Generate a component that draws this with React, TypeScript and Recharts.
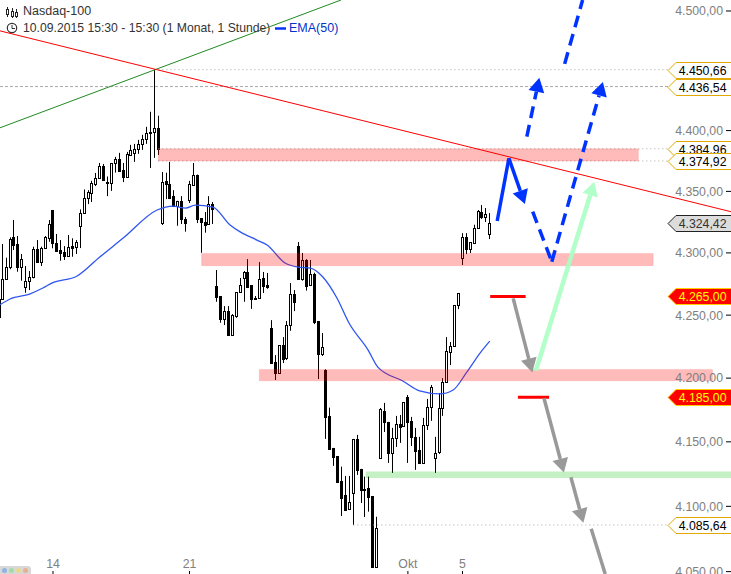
import { Bar, ComposedChart, Line, ReferenceArea, ReferenceDot, ReferenceLine, XAxis, YAxis } from 'recharts';

// hourly candles (first one is cut by the left edge)
const opens = [
  4262.9, 4263.1, 4279.2, 4288.4, 4312.6, 4307.2, 4288.4, 4272.8, 4277.6, 4280.8, 4302.9, 4292.9, 4303.7, 4312.3, 4334.8, 4307.8, 4302.3, 4300.4, 4297.7, 4305.5, 4305,
  4322, 4332.1, 4344.3, 4348.8, 4356, 4360.9, 4370.9, 4357.6, 4356.8, 4373.3, 4376.6, 4367.6, 4361.8, 4379.9, 4381.6, 4384.9, 4388.6, 4393.2, 4398.9, 4398.9, 4402.3,
  4324.2, 4358.6, 4356, 4346.1, 4338, 4342.1, 4327.5, 4342.9, 4355.2, 4363.8, 4328.3, 4325, 4323.4, 4339.6,
  4273.3, 4265.3, 4247.1, 4253.2, 4234.4, 4249.2, 4268.5, 4279.8, 4284.6, 4274.1, 4263.9, 4263.9, 4279.8, 4274.1,
  4239.7, 4212.7, 4204.2, 4226.2, 4216.1, 4242.1, 4266.9, 4305.5, 4279, 4294.3, 4274.1, 4283, 4245.3, 4219.3,
  4206.3, 4170.3, 4145.3, 4139, 4119.6, 4108.8, 4098, 4110.3, 4152.3, 4129, 4112.6, 4114.2, 4108, 4053.3,
  4137.5, 4174.2, 4165.6, 4141.4, 4153.1, 4164, 4162.5, 4185.2, 4166.4, 4153.9, 4143.7, 4133.6, 4163.2, 4177.3,
  4137.5, 4142.2, 4176.5, 4196.9, 4220.6, 4225.4, 4258, 4295.9, 4312.7, 4303.1, 4308, 4320.4, 4333.2, 4329.1, 4315.3,
];
const highs = [
  4262.9, 4307.2, 4296.1, 4312.6, 4326.7, 4313.7, 4299.1, 4289.4, 4285.4, 4305, 4310.4, 4305, 4313.7, 4326.7, 4334.8, 4315.3, 4310.4, 4305.5, 4314.5, 4311.8, 4310.4,
  4335.3, 4351.6, 4351, 4358.7, 4365.1, 4373.3, 4372.5, 4362.2, 4373.3, 4378.3, 4381.6, 4373.3, 4382.4, 4388.2, 4389, 4392.3, 4396.5, 4403.1, 4415.6, 4450.66, 4412.3,
  4365.9, 4365.3, 4374.2, 4351, 4342.3, 4346.1, 4329.1, 4358.6, 4373.3, 4363.8, 4328.3, 4333.2, 4346.1, 4341.3,
  4286.2, 4265.3, 4257.2, 4257.2, 4250.8, 4268.5, 4279.8, 4285.4, 4295, 4274.1, 4265.3, 4292.6, 4284.6, 4283.8,
  4246, 4218.2, 4226.2, 4232.5, 4245.3, 4275.7, 4270.1, 4308.8, 4299.9, 4295, 4294.3, 4284, 4245.3, 4235.7,
  4207, 4176.8, 4145.3, 4139, 4130.7, 4123.5, 4123.5, 4152.3, 4155.4, 4129, 4123, 4123, 4108, 4092,
  4176.5, 4180.5, 4165.6, 4160.9, 4170.3, 4171, 4181.2, 4186.7, 4169.5, 4160.9, 4153.9, 4168.7, 4183.6, 4194.6,
  4153.9, 4188.3, 4200, 4232.5, 4228.6, 4258, 4267.7, 4316, 4316, 4308.8, 4322.8, 4334.8, 4338.8, 4336.4, 4332.3,
];
const lows = [
  4248.4, 4263.1, 4278.2, 4286.8, 4302.3, 4284.8, 4277.6, 4267.9, 4270.1, 4279.5, 4292.9, 4289.4, 4303.1, 4309, 4303.7, 4301.7, 4293.7, 4294.3, 4297.7, 4296.9, 4299.1,
  4303.9, 4332.1, 4339.6, 4341.3, 4354.3, 4360.9, 4359.2, 4346.1, 4350.4, 4365.4, 4365.9, 4357.6, 4361.8, 4379.1, 4374.2, 4380.8, 4384.1, 4389, 4369.2, 4377.5, 4379.9,
  4322.6, 4343.7, 4344.5, 4338, 4322, 4323.4, 4317.2, 4340.5, 4355.2, 4324.2, 4300.1, 4316.4, 4322.6, 4323.4,
  4260.7, 4243.9, 4242.1, 4234.1, 4234.1, 4247.9, 4268.5, 4260.7, 4272.5, 4255, 4262.5, 4263.7, 4267.7, 4271.1,
  4212.1, 4198.5, 4204.2, 4211.9, 4214.3, 4237.5, 4253.2, 4278.2, 4277.6, 4269.6, 4273.3, 4242.9, 4199.3, 4217.5,
  4152.3, 4143.7, 4131.3, 4119.1, 4092.6, 4096.4, 4097.2, 4085.64, 4124.3, 4102.6, 4091.8, 4095.9, 4053.3, 4053.3,
  4137.5, 4157.7, 4133.6, 4125.8, 4146, 4149.2, 4161.7, 4133.6, 4146.8, 4128.2, 4132.8, 4133.6, 4159.3, 4166.4,
  4125.8, 4140.6, 4170.3, 4196.9, 4210.3, 4225.4, 4254.8, 4290.2, 4299.1, 4299.9, 4308, 4320.4, 4327.5, 4325, 4311.2,
];
const closes = [
  4248.4, 4278.7, 4288.4, 4311, 4306.6, 4288.4, 4295.3, 4277.6, 4280.8, 4302.9, 4292.9, 4303.7, 4312.6, 4323.2, 4307.8, 4301.7, 4300.1, 4297.5, 4304.5, 4303.9, 4308.6,
  4332.1, 4344.3, 4349.1, 4356.5, 4360.9, 4370.9, 4359.2, 4356.8, 4373.3, 4376.6, 4366.7, 4361.8, 4380.8, 4384.1, 4384.9, 4389, 4393.2, 4398.1, 4397.9, 4402.3, 4384.9,
  4357.9, 4356, 4344.5, 4338, 4342.3, 4327.5, 4324.2, 4356, 4363.4, 4327.5, 4325, 4322.6, 4339.6, 4335.6,
  4264.7, 4247.1, 4253.2, 4234.4, 4250, 4268.5, 4274.1, 4284.6, 4272.8, 4263.1, 4263.1, 4279.2, 4273.3, 4272.5,
  4212.1, 4204.2, 4226.2, 4215.3, 4242.1, 4266.9, 4260.7, 4279, 4294.3, 4273.6, 4283, 4244.7, 4219, 4224.6,
  4169.7, 4144.5, 4138.5, 4119.1, 4106.7, 4097.2, 4103.4, 4152.3, 4128.2, 4112.6, 4113.6, 4107.4, 4053.3, 4083.3,
  4175.8, 4165.6, 4141.4, 4153.1, 4164, 4161.7, 4181.2, 4165.6, 4153.9, 4143, 4133.6, 4163.2, 4177.3, 4193,
  4141.4, 4176.5, 4196.9, 4221.4, 4225.4, 4258, 4267.7, 4312.7, 4303.1, 4308.8, 4320.4, 4334, 4329.1, 4331.5, 4324.42,
];

const emaIndex = [-0.6, 2, 7, 10.4, 12.7, 19.2, 25, 31, 39.7, 43.8, 47, 49.5, 54, 58.4, 61, 65.3, 67.9, 72.5, 75.8, 79, 82.2, 85.8, 88.9, 93.8, 96.3, 102.7, 107, 112.2, 115.6, 119.1, 122.5, 125];
const emaValues = [4258.3, 4262.9, 4266.9, 4271.7, 4275.7, 4281.4, 4296.7, 4312, 4334.8, 4338, 4336.4, 4338.8, 4337.2, 4322.6, 4317, 4310.4, 4306.4, 4291.8, 4288.6, 4287.8, 4280.6, 4263.7, 4243.7, 4222.2, 4208.7, 4197.7, 4189.9, 4187.5, 4190.6, 4204.7, 4219.8, 4229.3];

const xMin = -0.59;
const xMax = 186.85;
const yMin = 4048.2;
const yMax = 4509.3;

const priceTicks = [4500, 4400, 4350, 4300, 4250, 4200, 4150, 4100, 4050];
const dateTicks = [13, 48, 104, 118];
const dateLabels = ['14', '21', 'Okt', '5'];

// [from index, to index, price low, price high]
const redZones = [
  [40, 163.1, 4374.92, 4384.96],
  [51.1, 166.9, 4289.6, 4299.6],
  [65.9, 182.1, 4197.9, 4206.9],
];
const greenZones = [[93.2, 186.85, 4121.8, 4126.9]];

// [from index, from price, to index, to price]
const blueSolid = [[126.9, 4325.9, 129.9, 4377.2]];
const blueSolidArrows = [[129.9, 4377.2, 134, 4339.6]];
const blueDashed = [
  [136, 4333.4, 140.9, 4292.9],
  [144.2, 4455.5, 148.8, 4509.3],
];
const blueDashedArrows = [
  [140.9, 4292.9, 154, 4440.4],
  [134.5, 4395, 137.7, 4443.8],
];
const greenArrows = [[136.8, 4205.8, 151.8, 4357.9]];
const greyArrows = [
  [131, 4263.4, 135.9, 4204.5],
  [138.9, 4184.1, 144, 4126.1],
  [145.8, 4122.5, 149, 4087.4],
];
const greySegments = [[151, 4082.8, 154.6, 4048.2]];
const stopLines = [
  [125.1, 134.2, 4265],
  [132.2, 140.2, 4185],
];

// price level lines with their tag on the right
const levelStart = [39, -0.59, 40, 40, 90];
const levelValues = [4450.66, 4436.54, 4384.96, 4374.92, 4085.64];
const lastPrice = 4324.42;
const stopPrices = [4265, 4185];
const tagIndex = 170.7;

const rows = opens.map((open, i) => ({
  x: i === 0 ? -0.6 : i - 1,
  open,
  high: highs[i],
  low: lows[i],
  close: closes[i],
}));
const emaRows = emaIndex.map((x, i) => ({ x, ema: emaValues[i] }));

const formatPrice = (v: number) => {
  const [whole, dec] = v.toFixed(2).split('.');
  return `${whole.slice(0, 1)}.${whole.slice(1)},${dec}`;
};

const FONT = '"Liberation Sans", Arial, sans-serif';

const Candle = (props: any) => {
  const { x, y, width, height, payload } = props;
  const cx = Math.round(x + width / 2 - 0.5) + 0.5;
  const span = Math.log(payload.high) - Math.log(payload.low) || 1;
  const toY = (p: number) => y + ((Math.log(payload.high) - Math.log(p)) / span) * height;
  const top = Math.round(toY(Math.max(payload.open, payload.close))) + 0.5;
  const bottom = Math.round(toY(Math.min(payload.open, payload.close))) + 0.5;
  const up = payload.close >= payload.open;
  return (
    <g>
      <line x1={cx} x2={cx} y1={y} y2={y + height} stroke="#000" />
      <rect x={cx - 1} y={top} width={2} height={Math.max(bottom - top, 1)} fill={up ? '#fff' : '#000'} stroke="#000" />
    </g>
  );
};

const ArrowLine = (props: any) => {
  const { x1, y1, x2, y2, stroke, strokeWidth, strokeDasharray, strokeOpacity } = props;
  const a = Math.atan2(y2 - y1, x2 - x1);
  const len = 14;
  const half = 8;
  const bx = x2 - Math.cos(a) * len;
  const by = y2 - Math.sin(a) * len;
  const px = -Math.sin(a) * half;
  const py = Math.cos(a) * half;
  return (
    <g opacity={strokeOpacity}>
      <line x1={x1} y1={y1} x2={bx} y2={by} stroke={stroke} strokeWidth={strokeWidth} strokeDasharray={strokeDasharray} />
      <polygon points={`${x2},${y2} ${bx + px},${by + py} ${bx - px},${by - py}`} fill={stroke} />
    </g>
  );
};

const PriceTag = (props: any) => {
  const { cx, cy, value, fill, stroke, color } = props;
  const y = Math.round(cy);
  const points = `${cx},${y + 0.5} ${cx + 8},${y - 7.5} 732,${y - 7.5} 732,${y + 8.5} ${cx + 8},${y + 8.5}`;
  return (
    <g>
      <polygon points={points} fill={fill} stroke={stroke} />
      <text x={726.5} y={y + 5} textAnchor="end" fontSize={12.3} fontFamily={FONT} fill={color}>
        {formatPrice(value)}
      </text>
    </g>
  );
};

const seg = (s: number[]) => [
  { x: s[0], y: s[1] },
  { x: s[2], y: s[3] },
];

export default function App() {
  return (
    <div style={{ position: 'absolute', left: 0, top: 0, width: 731, height: 574, overflow: 'hidden', background: '#fff' }}>
      <ComposedChart width={731} height={574} data={rows} margin={{ top: 0, right: 0, bottom: 0, left: 0 }}>
        <XAxis
          type="number"
          dataKey="x"
          domain={[xMin, xMax]}
          allowDataOverflow
          ticks={dateTicks}
          tickFormatter={(v: number) => dateLabels[dateTicks.indexOf(v)]}
          mirror
          axisLine={false}
          tickSize={3}
          tickMargin={3}
          tickLine={{ stroke: '#000' }}
          tick={{ fill: '#808080', fontSize: 12.3, fontFamily: FONT }}
          interval={0}
        />
        <YAxis
          scale="log"
          domain={[yMin, yMax]}
          allowDataOverflow
          orientation="right"
          ticks={priceTicks}
          tickFormatter={formatPrice}
          mirror
          axisLine={false}
          tickSize={5}
          tickMargin={3}
          tickLine={{ stroke: '#000' }}
          tick={{ fill: '#808080', fontSize: 12.3, fontFamily: FONT }}
          interval={0}
        />

        {levelValues.map((v, i) => (
          <ReferenceLine
            key={v}
            segment={[
              { x: levelStart[i], y: v },
              { x: tagIndex, y: v },
            ]}
            stroke="#a8a8a8"
            strokeDasharray={i === 1 ? '3 2' : '1 3'}
            ifOverflow="visible"
          />
        ))}

        <Bar dataKey={(d: any) => [d.low, d.high]} barSize={3} shape={Candle} isAnimationActive={false} />
        <Line data={emaRows} dataKey="ema" type="monotone" stroke="#2f55f0" strokeWidth={1.3} dot={false} activeDot={false} isAnimationActive={false} />

        {redZones.map((z) => (
          <ReferenceArea key={z[0]} x1={z[0]} x2={z[1]} y1={z[2]} y2={z[3]} fill="#ff0000" fillOpacity={0.27} stroke="#ff0000" strokeOpacity={0.1} ifOverflow="visible" zIndex={700} />
        ))}
        {greenZones.map((z) => (
          <ReferenceArea key={z[0]} x1={z[0]} x2={z[1]} y1={z[2]} y2={z[3]} fill="#00c000" fillOpacity={0.23} ifOverflow="visible" zIndex={700} />
        ))}

        <ReferenceLine segment={[{ x: xMin, y: 4402.3 }, { x: 86.85, y: yMax }]} stroke="#1f8a1f" ifOverflow="visible" zIndex={800} />
        <ReferenceLine segment={[{ x: xMin, y: 4483.2 }, { x: xMax, y: 4333.4 }]} stroke="#ff0000" ifOverflow="visible" zIndex={800} />

        {stopLines.map((s) => (
          <ReferenceLine key={s[0]} segment={[{ x: s[0], y: s[2] }, { x: s[1], y: s[2] }]} stroke="#ff0000" strokeWidth={3} ifOverflow="visible" zIndex={800} />
        ))}
        {greyArrows.map((s) => (
          <ReferenceLine key={s[0]} segment={seg(s)} stroke="#999999" strokeWidth={3.5} shape={ArrowLine} ifOverflow="visible" zIndex={800} />
        ))}
        {greySegments.map((s) => (
          <ReferenceLine key={s[0]} segment={seg(s)} stroke="#999999" strokeWidth={3.5} ifOverflow="visible" zIndex={800} />
        ))}
        {greenArrows.map((s) => (
          <ReferenceLine key={s[0]} segment={seg(s)} stroke="#aaffc4" strokeWidth={4.5} strokeOpacity={0.9} shape={ArrowLine} ifOverflow="visible" zIndex={800} />
        ))}
        {blueSolid.map((s) => (
          <ReferenceLine key={s[0]} segment={seg(s)} stroke="#0033ff" strokeWidth={3.5} ifOverflow="visible" zIndex={800} />
        ))}
        {blueSolidArrows.map((s) => (
          <ReferenceLine key={s[0]} segment={seg(s)} stroke="#0033ff" strokeWidth={3.5} shape={ArrowLine} ifOverflow="visible" zIndex={800} />
        ))}
        {blueDashed.map((s) => (
          <ReferenceLine key={s[0]} segment={seg(s)} stroke="#0033ff" strokeWidth={3.5} strokeDasharray="12 7" ifOverflow="visible" zIndex={800} />
        ))}
        {blueDashedArrows.map((s) => (
          <ReferenceLine key={s[0]} segment={seg(s)} stroke="#0033ff" strokeWidth={3.5} strokeDasharray="12 7" shape={ArrowLine} ifOverflow="visible" zIndex={800} />
        ))}

        {levelValues.map((v) => (
          <ReferenceDot key={v} x={tagIndex} y={v} r={1} ifOverflow="visible" zIndex={900}
            shape={(p: any) => <PriceTag {...p} value={v} fill="#fff" stroke="#e0a800" color="#000" />} />
        ))}
        <ReferenceDot x={tagIndex} y={lastPrice} r={1} ifOverflow="visible" zIndex={900}
          shape={(p: any) => <PriceTag {...p} value={lastPrice} fill="#dcdcdc" stroke="#222" color="#333" />} />
        {stopPrices.map((v) => (
          <ReferenceDot key={v} x={tagIndex} y={v} r={1} ifOverflow="visible" zIndex={900}
            shape={(p: any) => <PriceTag {...p} value={v} fill="#ff0000" stroke="#ffd000" color="#ffff00" />} />
        ))}
      </ComposedChart>

      {/* header */}
      <div style={{ position: 'absolute', left: 23, top: 4, font: `12.5px ${FONT}`, color: '#333', textShadow: '0 0 2px #fff' }}>Nasdaq-100</div>
      <div style={{ position: 'absolute', left: 23, top: 21, font: `12.2px ${FONT}`, color: '#333', whiteSpace: 'nowrap', textShadow: '0 0 2px #fff' }}>
        10.09.2015 15:30 - 15:30 (1 Monat, 1 Stunde)
      </div>
      <div style={{ position: 'absolute', left: 289, top: 21, font: `12.5px ${FONT}`, color: '#0033cc', whiteSpace: 'nowrap' }}>EMA(50)</div>
      <svg width={300} height={40} style={{ position: 'absolute', left: 0, top: 0, pointerEvents: 'none' }}>
        <g stroke="#222" fill="#fff">
          <path d="M7.5 7V17M12.5 8V18M16.5 9V18" />
          <rect x={6.5} y={9.5} width={2} height={5} />
          <rect x={11.5} y={11.5} width={2} height={5} />
          <rect x={15.5} y={12.5} width={2} height={4} />
        </g>
        <circle cx={12} cy={28} r={4.7} fill="#fff" stroke="#333" strokeWidth={1.2} />
        <path d="M12 25V28.5H15" fill="none" stroke="#333" />
        <path d="M275 28.5H286" stroke="#0033ff" strokeWidth={2.5} />
      </svg>
      <div style={{ position: 'absolute', left: 0, top: 566, width: 31, height: 8, background: '#d8d8d8', borderTopRightRadius: 3 }}>
        {['#8fb4e0', '#a5dca5', '#e8d890', '#e8b090'].map((c, i) => (
          <span key={c} style={{ position: 'absolute', left: 2 + i * 7, top: 2, width: 5, height: 5, borderRadius: 3, background: c }} />
        ))}
      </div>
    </div>
  );
}
